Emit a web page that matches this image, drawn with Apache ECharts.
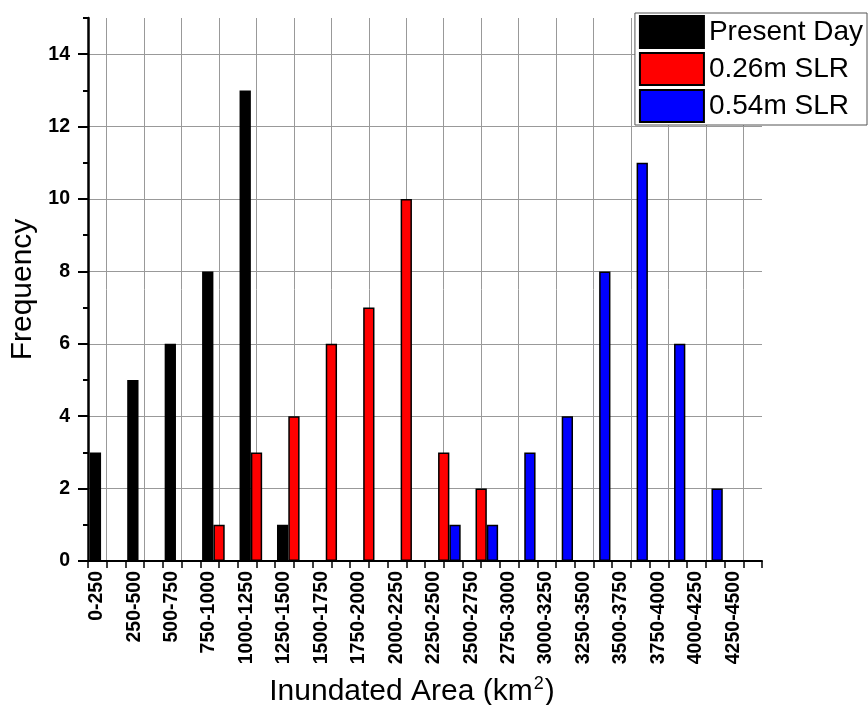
<!DOCTYPE html>
<html>
<head>
<meta charset="utf-8">
<script src="https://cdn.jsdelivr.net/npm/echarts@6/dist/echarts.min.js"></script>
<style>
html,body{margin:0;padding:0;background:#fff;}
#chart{width:868px;height:705px;}
</style>
</head>
<body>
<div id="chart"></div>
<script>
const categories = ['0-250','250-500','500-750','750-1000','1000-1250','1250-1500','1500-1750','1750-2000','2000-2250','2250-2500','2500-2750','2750-3000','3000-3250','3250-3500','3500-3750','3750-4000','4000-4250','4250-4500'];
const presentDay = [3,5,6,8,13,1,0,0,0,0,0,0,0,0,0,0,0,0];
const slr026 =     [0,0,0,1,3,4,6,7,10,3,2,0,0,0,0,0,0,0];
const slr054 =     [0,0,0,0,0,0,0,0,0,1,1,3,4,8,11,6,2,0];
const yLabelValues = [0,2,4,6,8,10,12,14];
const yMinorValues = [1,3,5,7,9,11,13,15];
const halfTicks = Array.from({length:37}, (_, i) => String(i));

const chart = echarts.init(document.getElementById('chart'), null, {renderer:'canvas'});
const FONT = 'Liberation Sans, Arial, sans-serif';
const barStyle = (c) => ({color:c, borderColor:'#000', borderWidth:1.5});

chart.setOption({
  animation:false,
  backgroundColor:'#fff',
  grid:{left:88, right:106, top:18, bottom:144, containLabel:false, outerBoundsMode:'none'},
  legend:{
    orient:'vertical', right:1, top:13, icon:'rect',
    itemWidth:64, itemHeight:32, itemGap:3,
    backgroundColor:'#fff', borderColor:'#555', borderWidth:1,
    padding:[2,4,2,4],
    textStyle:{fontSize:28, color:'#000', fontFamily:FONT},
    data:['Present Day','0.26m SLR','0.54m SLR']
  },
  xAxis:[{
    type:'category', data:categories, position:'bottom',
    name:'Inundated Area (km{sup|2})', nameLocation:'middle', nameGap:114, nameMoveOverlap:false,
    nameTextStyle:{fontSize:30, color:'#000', fontFamily:FONT, lineHeight:34, padding:[0,26,0,0],
      rich:{sup:{fontSize:18, verticalAlign:'top', color:'#000', fontFamily:FONT, lineHeight:34, padding:[0,1,15,1]}}},
    axisLine:{show:true, onZero:false, lineStyle:{color:'#000', width:2}},
    axisTick:{show:false},
    splitLine:{show:false},
    axisLabel:{rotate:90, interval:0, margin:10, fontSize:19.5, fontWeight:'bold', color:'#000', fontFamily:FONT, verticalAlign:'bottom'}
  },{
    type:'category', data:halfTicks, position:'bottom', boundaryGap:false,
    axisLine:{show:false},
    axisTick:{show:true, interval:0, length:7, lineStyle:{color:'#000', width:1.5}},
    axisLabel:{show:false},
    splitLine:{show:true, interval:function(i){return i % 2 === 1;}, lineStyle:{color:'#999', width:1}}
  }],
  yAxis:[{
    type:'value', min:0, max:15,
    name:'Frequency', nameLocation:'middle', nameGap:50, nameMoveOverlap:false,
    nameTextStyle:{fontSize:30, color:'#000', fontFamily:FONT},
    axisLine:{show:true, lineStyle:{color:'#000', width:2.5}},
    axisTick:{show:true, length:10, customValues:yLabelValues, lineStyle:{color:'#000', width:2}},
    axisLabel:{margin:18, fontSize:19.5, fontWeight:'bold', color:'#000', fontFamily:FONT, customValues:yLabelValues},
    splitLine:{show:true, lineStyle:{color:'#999', width:1}}
  },{
    type:'value', min:0, max:15, position:'left',
    axisLine:{show:false},
    axisTick:{show:true, length:5, customValues:yMinorValues, lineStyle:{color:'#000', width:2}},
    axisLabel:{show:false, customValues:yMinorValues},
    splitLine:{show:false}
  }],
  series:[
    {name:'Present Day', type:'bar', xAxisIndex:0, yAxisIndex:0, data:presentDay, barWidth:11.3, barGap:'0%', itemStyle:barStyle('#000')},
    {name:'0.26m SLR', type:'bar', xAxisIndex:0, yAxisIndex:0, data:slr026, barWidth:11.3, barGap:'0%', itemStyle:barStyle('#ff0000')},
    {name:'0.54m SLR', type:'bar', xAxisIndex:0, yAxisIndex:0, data:slr054, barWidth:11.3, barGap:'0%', itemStyle:barStyle('#0000ff')}
  ]
});
</script>
</body>
</html>
